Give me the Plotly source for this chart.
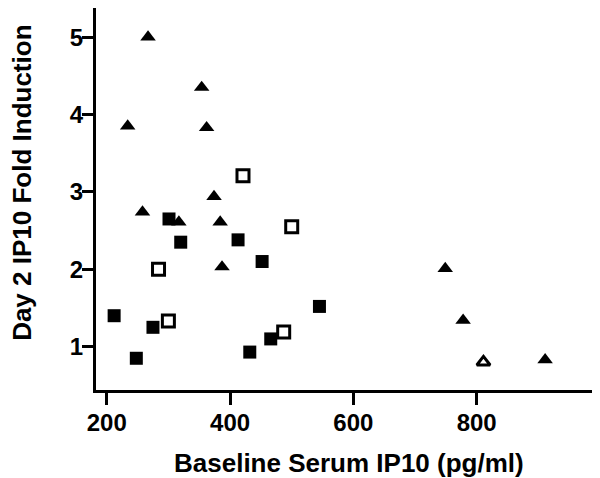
import plotly.graph_objects as go

# filled squares
sq_x = [212, 248, 275, 301, 320, 413, 432, 452, 466, 545]
sq_y = [1.40, 0.85, 1.25, 2.65, 2.35, 2.38, 0.93, 2.10, 1.10, 1.52]

# open squares
osq_x = [284, 300, 421, 487, 500]
osq_y = [2.00, 1.33, 3.21, 1.19, 2.55]

# filled triangles
tri_x = [234, 258, 267, 317, 354, 362, 374, 384, 387, 749, 778, 911]
tri_y = [3.85, 2.74, 5.00, 2.61, 4.35, 3.83, 2.94, 2.61, 2.03, 2.01, 1.34, 0.83]

# open triangle
otri_x = [811]
otri_y = [0.80]

x_ticks = [200, 400, 600, 800]
y_ticks = [1, 2, 3, 4, 5]

FONT = "Arial, Liberation Sans, sans-serif"

fig = go.Figure()
fig.add_trace(go.Scatter(
    x=sq_x, y=sq_y, mode="markers",
    marker=dict(symbol="square", size=13, color="black"),
))
fig.add_trace(go.Scatter(
    x=osq_x, y=osq_y, mode="markers",
    marker=dict(symbol="square-open", size=12, color="black", line=dict(width=3, color="black")),
))
fig.add_trace(go.Scatter(
    x=tri_x, y=tri_y, mode="markers",
    marker=dict(symbol="triangle-up", size=13.5, color="black"),
))
fig.add_trace(go.Scatter(
    x=otri_x, y=otri_y, mode="markers",
    marker=dict(symbol="triangle-up-open", size=11.5, color="black", line=dict(width=3, color="black")),
))

axis_common = dict(
    showgrid=False, zeroline=False, automargin=False,
    showline=True, linecolor="black", linewidth=3,
    ticks="outside", tickcolor="black", tickwidth=3,
    tickfont=dict(family=FONT, size=24, color="black", weight="bold"),
)

# page body adds an 8px offset, so the figure is 8px smaller each way
fig.update_xaxes(range=[182.6, 1000], tickvals=x_ticks, ticklen=12,
                 ticklabelstandoff=-3, **axis_common)
fig.update_yaxes(range=[0.44, 5.376], tickvals=y_ticks, ticklen=11,
                 ticklabelstandoff=-6, **axis_common)

fig.add_annotation(
    text="Baseline Serum IP10 (pg/ml)", xref="paper", yref="paper",
    x=0.502, y=-0.191, xanchor="center", yanchor="middle", showarrow=False,
    font=dict(family=FONT, size=26, color="black", weight="bold"),
)
fig.add_annotation(
    text="Day 2 IP10 Fold Induction", xref="paper", yref="paper",
    x=-0.147, y=0.542, xanchor="center", yanchor="middle", showarrow=False,
    textangle=-90,
    font=dict(family=FONT, size=26, color="black", weight="bold"),
)

fig.update_layout(
    width=592, height=470,
    showlegend=False,
    paper_bgcolor="white", plot_bgcolor="white",
    margin=dict(l=88, r=0, t=0, b=88),
)

fig.write_html("out.html")
